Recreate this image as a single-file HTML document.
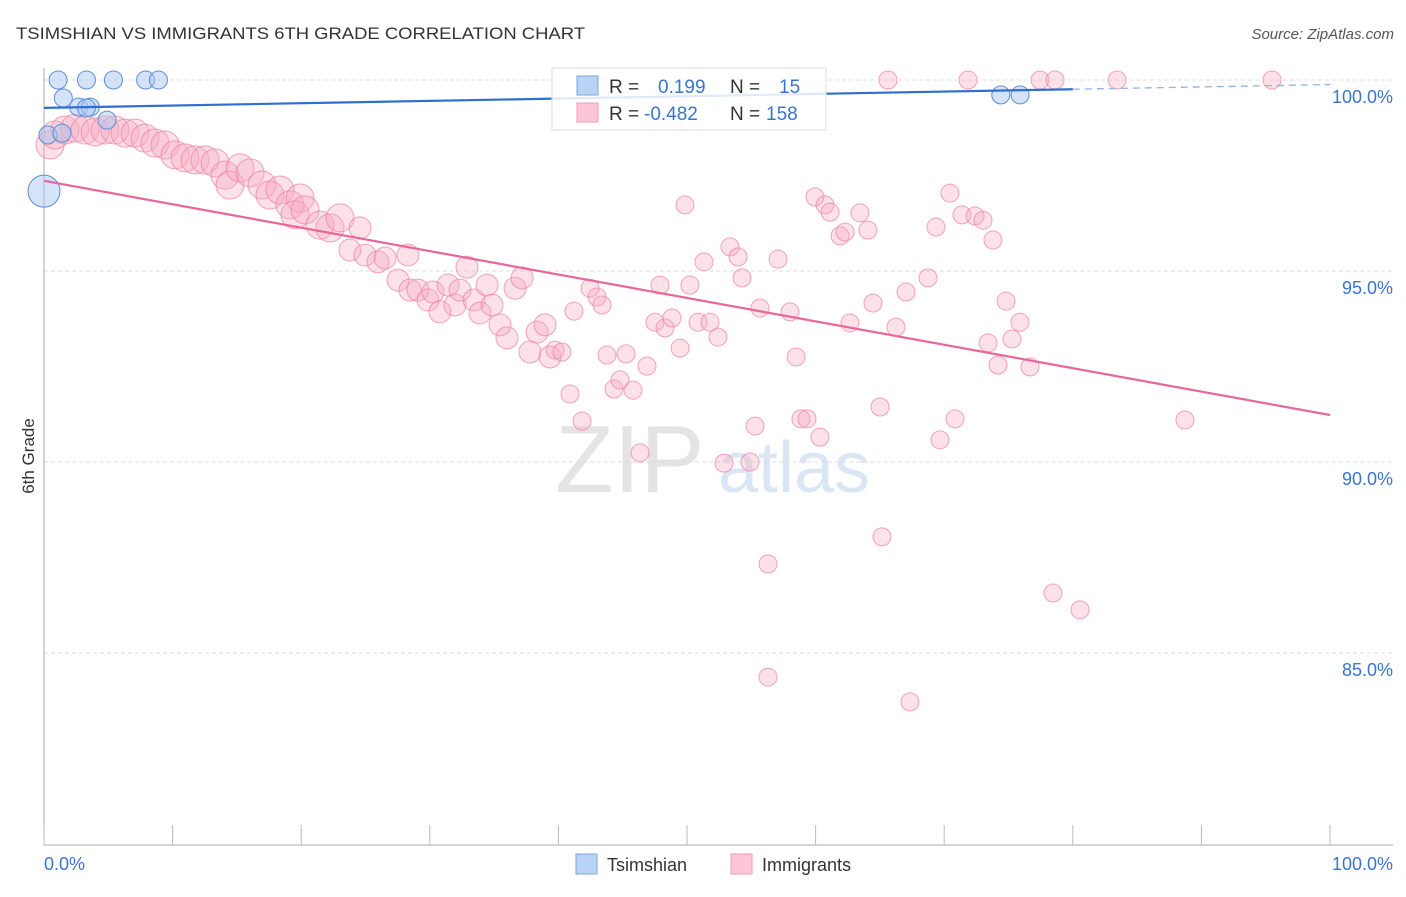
<!DOCTYPE html>
<html><head><meta charset="utf-8"><style>
body{margin:0;background:#fff;font-family:"Liberation Sans",sans-serif}
svg text{font-family:"Liberation Sans",sans-serif}
</style></head><body>
<svg width="1406" height="892" xmlns="http://www.w3.org/2000/svg">
<text x="16" y="39" font-size="17" fill="#333" textLength="569" lengthAdjust="spacingAndGlyphs">TSIMSHIAN VS IMMIGRANTS 6TH GRADE CORRELATION CHART</text>
<text x="1394" y="39" font-size="15" fill="#555" font-style="italic" text-anchor="end">Source: ZipAtlas.com</text>
<text x="555" y="492" font-size="96" fill="#e4e4e4" font-family="Liberation Serif">ZIP</text>
<text x="718" y="492" font-size="72" fill="#dbe6f5">atlas</text>
<g id="grid"></g>
<g id="axes"></g>
<g id="pink"></g>
<g id="blue"></g>
<g id="lines"></g>
<text x="34" y="456" font-size="17" fill="#333" transform="rotate(-90 34 456)" text-anchor="middle">6th Grade</text>
<g>
<rect x="552" y="68" width="274" height="62" fill="#fff" fill-opacity="0.85" stroke="#ddd"/>
<rect x="577" y="76" width="21" height="19" fill="#b9d3f5" stroke="#7aa6e0"/>
<rect x="577" y="103" width="21" height="19" fill="#fcc6d6" stroke="#f09ab4"/>
<text x="609" y="93" font-size="19" fill="#333">R = <tspan fill="#3a74d0" x="658">0.199</tspan><tspan x="730" fill="#333">N =</tspan><tspan x="779" fill="#3a74d0">15</tspan></text>
<text x="609" y="120" font-size="19" fill="#333">R = <tspan fill="#3a74d0" x="644">-0.482</tspan><tspan x="730" fill="#333">N =</tspan><tspan x="766" fill="#3a74d0">158</tspan></text>
</g>
<g>
<rect x="576" y="854" width="21" height="20" fill="#b9d3f5" stroke="#7aa6e0"/>
<text x="607" y="871" font-size="18" fill="#333">Tsimshian</text>
<rect x="731" y="854" width="21" height="20" fill="#fcc6d6" stroke="#f09ab4"/>
<text x="762" y="871" font-size="18" fill="#333">Immigrants</text>
</g>
</svg>
<script>
const blueX=[1.1,3.3,5.4,7.9,8.9,1.5,2.7,3.6,3.3,4.9,0.3,1.4,0,74.4,75.9];
const blueY=[100,100,100,100,100,99.53,99.29,99.29,99.27,98.95,98.56,98.61,97.09,99.61,99.61];
const blueR=[9,9,9,9,9,9,9,9,9,9,9,9,16,9,9];
const pinkX=[0.47,0.86,1.63,2.41,3.19,3.97,4.74,5.52,6.30,7.08,7.85,8.63,9.41,10.19,10.96,11.74,12.52,13.30,14.07,14.46,15.24,16.02,16.95,17.57,18.35,19.13,19.91,19.52,20.30,21.46,22.24,23.02,23.79,24.57,24.96,25.97,26.52,27.53,28.30,28.46,29.08,29.86,30.25,30.79,31.42,31.96,32.35,32.89,33.44,33.90,34.45,34.84,35.46,36.00,36.63,37.17,37.79,38.34,38.96,39.35,39.74,40.28,40.90,41.21,41.84,42.46,43.00,43.39,43.78,44.32,44.79,45.26,45.80,46.35,46.89,47.51,47.90,48.29,48.83,49.46,49.84,50.23,50.86,51.32,51.79,52.41,52.88,53.34,53.97,54.28,54.90,55.29,55.68,56.30,57.08,58.01,58.48,58.86,59.33,59.95,60.34,60.73,61.12,61.90,62.29,62.67,63.45,64.07,64.46,65.01,65.16,66.25,67.03,67.34,68.74,69.36,69.67,70.45,70.84,71.38,72.40,73.02,73.41,73.79,74.18,74.81,75.27,75.89,76.67,78.46,80.56,88.72,56.30,65.63,71.85,77.45,78.62,83.44,95.49];
const pinkY=[98.30,98.56,98.69,98.74,98.69,98.64,98.69,98.69,98.61,98.61,98.48,98.35,98.30,98.04,97.96,97.91,97.91,97.83,97.51,97.25,97.70,97.57,97.25,96.99,97.12,96.73,96.91,96.47,96.60,96.20,96.13,96.39,95.55,96.13,95.42,95.24,95.34,94.76,95.42,94.50,94.50,94.24,94.45,93.93,94.63,94.11,94.50,95.10,94.24,93.90,94.63,94.11,93.59,93.25,94.55,94.82,92.88,93.40,93.59,92.75,92.93,92.88,91.78,93.95,91.07,94.55,94.32,94.11,92.80,91.91,92.15,92.83,91.88,90.24,92.51,93.66,94.63,93.51,93.77,92.98,96.73,94.63,93.66,95.24,93.66,93.27,89.97,95.63,95.37,94.82,90.00,90.94,94.03,87.33,95.31,93.93,92.75,91.13,91.13,96.94,90.65,96.73,96.54,95.92,96.02,93.64,96.52,96.07,94.16,91.44,88.04,93.53,94.45,83.72,94.82,96.15,90.58,97.04,91.13,96.47,96.44,96.33,93.12,95.81,92.54,94.21,93.22,93.66,92.49,86.57,86.13,91.10,84.37,100,100,100,100,100,100];
const yTicks=[100,95,90,85];
const yTickLabels=["100.0%","95.0%","90.0%","85.0%"];
const pinkTrend=[97.36,91.23];
const blueTrend=[99.27,99.88];
const NS="http://www.w3.org/2000/svg";
const sx=v=>44+v*12.86, sy=v=>80+(100-v)*38.2;
function mk(tag,attrs,parent){const e=document.createElementNS(NS,tag);for(const k in attrs)e.setAttribute(k,attrs[k]);parent.appendChild(e);return e;}
const grid=document.getElementById('grid'),axes=document.getElementById('axes');
yTicks.forEach((t,i)=>{
 const l=mk('line',{x1:44,x2:1393,y1:sy(t),y2:sy(t),stroke:'#ddd','stroke-dasharray':'4,3'},grid);
 
 
 const tx=mk('text',{x:1393,y:sy(t)+23,'font-size':18,fill:'#3a74d0','text-anchor':'end'},axes);
 tx.textContent=yTickLabels[i];
 
 
});
let a=mk('line',{x1:44,x2:44,y1:68,y2:845,stroke:'#aaa'},axes);


a=mk('line',{x1:44,x2:1393,y1:845,y2:845,stroke:'#aaa'},axes);


for(let i=0;i<=10;i++){const t=mk('line',{x1:sx(i*10),x2:sx(i*10),y1:825,y2:845,stroke:'#bbb'},axes);
 
 }
let xl=mk('text',{x:44,y:870,'font-size':18,fill:'#3a74d0'},axes);xl.textContent='0.0%';


xl=mk('text',{x:1393,y:870,'font-size':18,fill:'#3a74d0','text-anchor':'end'},axes);xl.textContent='100.0%';


const pg=document.getElementById('pink');
pinkX.forEach((x,i)=>{const r=i<32?14:(i<60?11:9);
 const c=mk('circle',{cx:sx(x),cy:sy(pinkY[i]),r:r,fill:'#f7a8c0','fill-opacity':0.35,stroke:'#ee7fa0','stroke-opacity':0.7},pg);
 
 });
const bg=document.getElementById('blue');
blueX.forEach((x,i)=>{const c=mk('circle',{cx:sx(x),cy:sy(blueY[i]),r:blueR[i],fill:'#a9c8f0','fill-opacity':0.5,stroke:'#5b8fd8'},bg);
 
 });
const lg=document.getElementById('lines');
let ln=mk('line',{x1:sx(0),y1:sy(pinkTrend[0]),x2:sx(100),y2:sy(pinkTrend[1]),stroke:'#e8679a','stroke-width':2.2},lg);


const bAt=x=>blueTrend[0]+(blueTrend[1]-blueTrend[0])*x/100;
ln=mk('line',{x1:sx(0),y1:sy(bAt(0)),x2:sx(80),y2:sy(bAt(80)),stroke:'#2f6fcf','stroke-width':2.2},lg);


ln=mk('line',{x1:sx(80),y1:sy(bAt(80)),x2:sx(100),y2:sy(bAt(100)),stroke:'#8fb3e6','stroke-width':1.3,'stroke-dasharray':'7,5'},lg);


</script>
</body></html>
